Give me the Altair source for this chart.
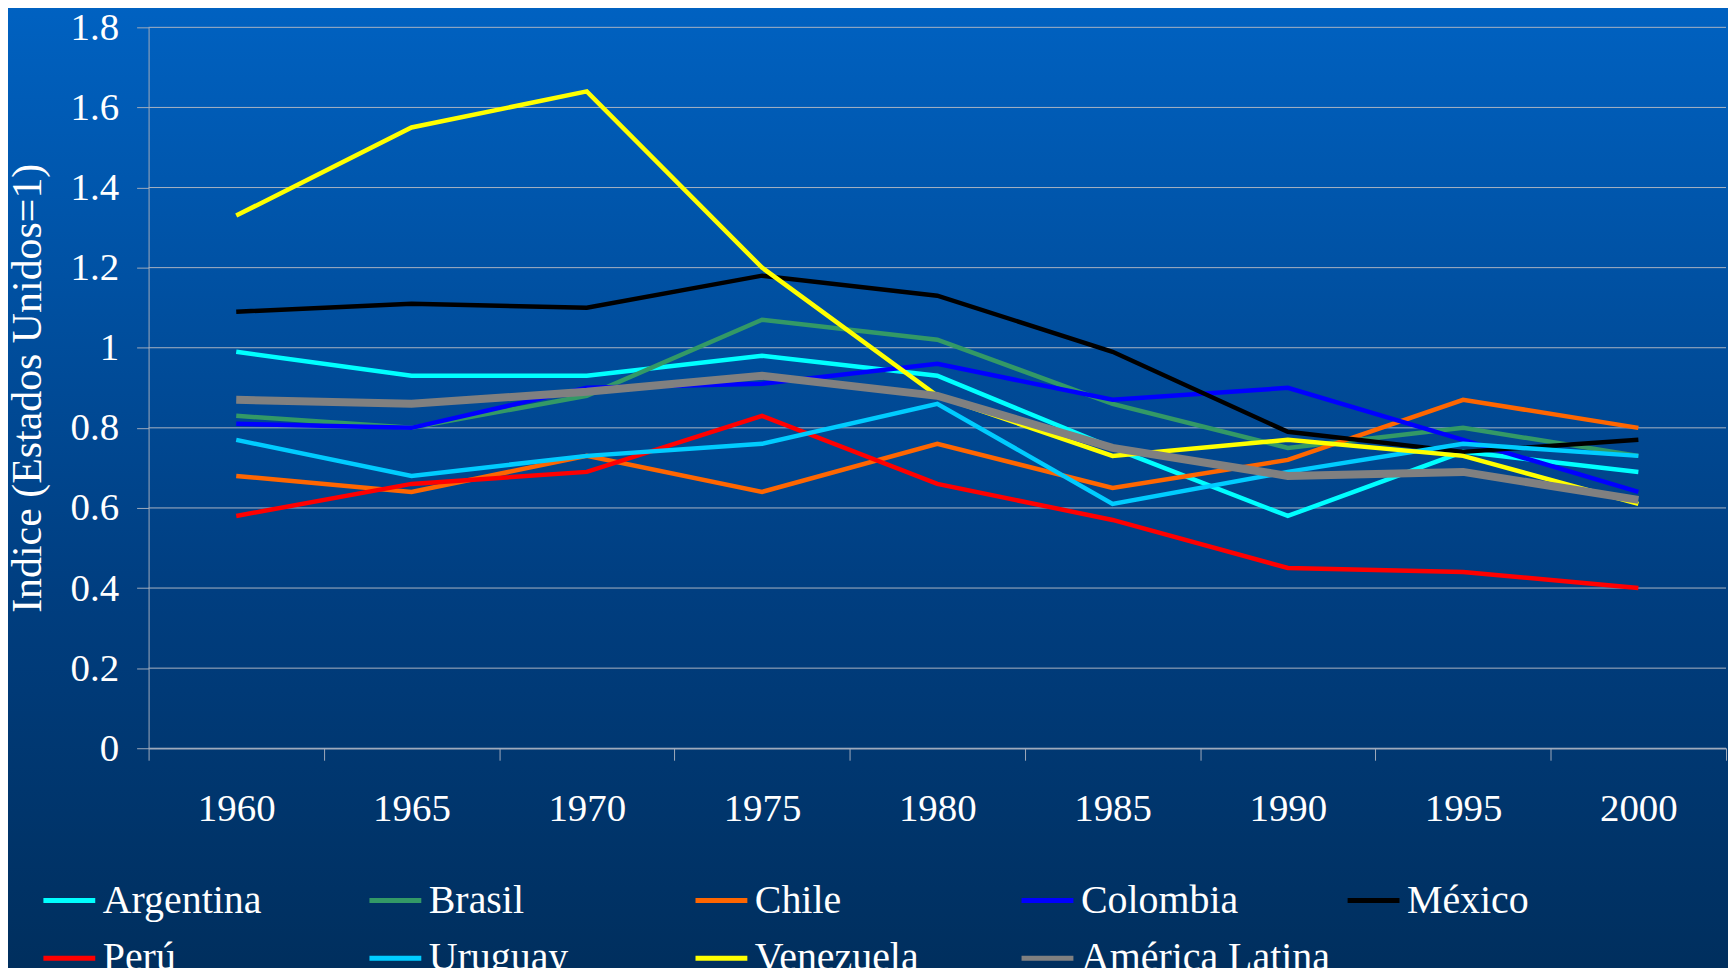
import altair as alt
import pandas as pd

years = [1960, 1965, 1970, 1975, 1980, 1985, 1990, 1995, 2000]
series_names = ["Argentina", "Brasil", "Chile", "Colombia", "México",
                "Perú", "Uruguay", "Venezuela", "América Latina"]
series_colors = ["#00FFFF", "#339966", "#FF6600", "#0000FF", "#000000",
                 "#FF0000", "#00CCFF", "#FFFF00", "#808080"]
# legend is filled column by column (2 rows x 5 columns)
legend_order = ["Argentina", "Perú", "Brasil", "Uruguay", "Chile",
                "Venezuela", "Colombia", "América Latina", "México"]

argentina = [0.99, 0.93, 0.93, 0.98, 0.93, 0.75, 0.58, 0.74, 0.69]
brasil = [0.83, 0.80, 0.88, 1.07, 1.02, 0.86, 0.75, 0.80, 0.73]
chile = [0.68, 0.64, 0.73, 0.64, 0.76, 0.65, 0.72, 0.87, 0.80]
colombia = [0.81, 0.80, 0.90, 0.91, 0.96, 0.87, 0.90, 0.77, 0.64]
mexico = [1.09, 1.11, 1.10, 1.18, 1.13, 0.99, 0.79, 0.74, 0.77]
peru = [0.58, 0.66, 0.69, 0.83, 0.66, 0.57, 0.45, 0.44, 0.40]
uruguay = [0.77, 0.68, 0.73, 0.76, 0.86, 0.61, 0.69, 0.76, 0.73]
venezuela = [1.33, 1.55, 1.64, 1.20, 0.88, 0.73, 0.77, 0.73, 0.61]
america_latina = [0.87, 0.86, 0.89, 0.93, 0.88, 0.75, 0.68, 0.69, 0.62]

y_ticks = [0, 0.2, 0.4, 0.6, 0.8, 1, 1.2, 1.4, 1.6, 1.8]
y_title = "Indice (Estados Unidos=1)"

all_series = [argentina, brasil, chile, colombia, mexico, peru, uruguay,
              venezuela, america_latina]
rows = []
for name, vals in zip(series_names, all_series):
    for yr, v in zip(years, vals):
        rows.append({"pais": name, "anio": str(yr), "valor": v})
df = pd.DataFrame(rows)
grid_df = pd.DataFrame({"valor": y_ticks})

color_map = dict(zip(series_names, series_colors))
legend_colors = [color_map[n] for n in legend_order]

FONT = "Liberation Serif"
W, H = 1582, 723
AXC = "#9FAABB"

bg = alt.Chart(alt.Data(values=[{"k": 1}])).mark_rect(
    fill=alt.Gradient(
        gradient="linear", x1=0, y1=0, x2=0, y2=1,
        stops=[alt.GradientStop(color="#0062C2", offset=0),
               alt.GradientStop(color="#003E80", offset=0.6),
               alt.GradientStop(color="#002E5C", offset=1)],
    )
).encode(
    x=alt.value(-160), x2=alt.value(W + 20),
    y=alt.value(-30), y2=alt.value(H + 240),
)

y_scale = alt.Scale(domain=[0, 1.8], nice=False, zero=True)
y_axis = alt.Axis(title=y_title, values=y_ticks, format="~g",
                  grid=False, zindex=1,
                  labelFont=FONT, labelFontSize=39, labelColor="white",
                  labelPadding=18, tickSize=12, tickColor=AXC,
                  domainColor=AXC, titleFont=FONT, titleFontSize=42,
                  titleFontWeight="normal", titleColor="white",
                  titlePadding=21)

grid = alt.Chart(grid_df).mark_rule(color="#A9B3C2", strokeWidth=1).encode(
    y=alt.Y("valor:Q", scale=y_scale, axis=y_axis),
)

lines = alt.Chart(df).mark_line(strokeJoin="miter").encode(
    x=alt.X("anio:O", bandPosition=0.5,
            scale=alt.Scale(type="band", paddingInner=0, paddingOuter=0),
            axis=alt.Axis(title=None, tickBand="extent", grid=False,
                          labelAngle=0, labelFont=FONT, labelFontSize=39,
                          labelColor="white", labelPadding=29, tickSize=12,
                          tickColor=AXC, domainColor=AXC,
                          tickWidth=1, domainWidth=1.5, zindex=1)),
    y=alt.Y("valor:Q", scale=y_scale, axis=y_axis),
    color=alt.Color("pais:N",
                    scale=alt.Scale(domain=legend_order, range=legend_colors),
                    legend=alt.Legend(title=None, orient="none", legendX=-108,
                                      legendY=847, columns=5,
                                      symbolType="stroke", symbolSize=2704,
                                      symbolStrokeWidth=5, labelFont=FONT,
                                      labelFontSize=40, labelColor="white",
                                      labelOffset=5, labelLimit=400,
                                      columnPadding=7, rowPadding=9,
                                      gridAlign="all", padding=0)),
    detail="pais:N",
    strokeWidth=alt.condition(alt.datum.pais == "América Latina",
                              alt.value(8), alt.value(4.5)),
)

chart = alt.layer(bg, grid, lines).properties(
    width=W, height=H,
    autosize=alt.AutoSizeParams(type="none"),
    padding={"left": 141, "top": 18, "right": 2, "bottom": 219},
    background="#003060",
).configure_view(strokeWidth=0)

chart.save("out.html", embed_options={"renderer": "svg", "actions": False})
